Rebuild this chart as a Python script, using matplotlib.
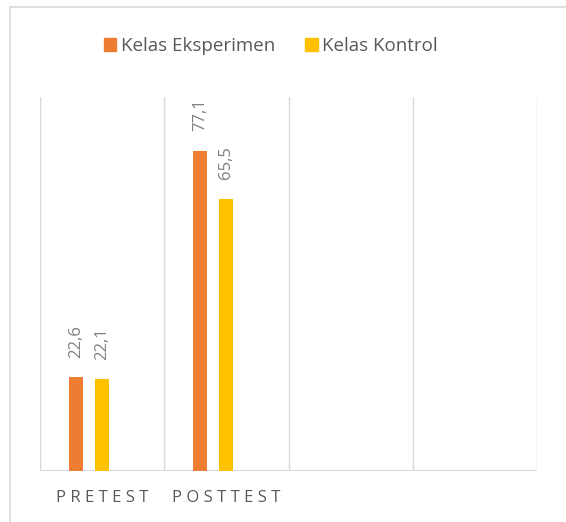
import matplotlib.pyplot as plt
from matplotlib.patches import Rectangle, Patch

# Data
categories = ["PRETEST", "POSTTEST", "", ""]
series_names = ["Kelas Eksperimen", "Kelas Kontrol"]
eksperimen = [22.6, 77.1]
kontrol = [22.1, 65.5]
value_labels_eks = ["22,6", "77,1"]
value_labels_kon = ["22,1", "65,5"]

orange = "#ED7D31"
yellow = "#FFC000"
grid_c = "#D9D9D9"
text_c = "#595959"

plt.rcParams["font.family"] = ["Open Sans", "DejaVu Sans"]

W, H = 566, 522
fig = plt.figure(figsize=(W / 100, H / 100), dpi=100)

# chart frame
fig.patches.append(Rectangle((10 / W, -0.1), 1.2, 1 - 7 / H + 0.1,
                             transform=fig.transFigure, fill=False,
                             edgecolor=grid_c, linewidth=1.2))

ax = fig.add_axes([40 / W, 1 - 471 / H, (537 - 40) / W, (471 - 97) / H])

bw = 0.113
off = 0.21
x_pos = list(range(len(eksperimen)))
b1 = ax.bar([x - off for x in x_pos], eksperimen, bw, color=orange)
b2 = ax.bar(x_pos, kontrol, bw, color=yellow)

for rect, lab in zip(b1, value_labels_eks):
    ax.annotate(lab, (rect.get_x() + rect.get_width() / 2, rect.get_height()),
                xytext=(0, 14), textcoords="offset points", rotation=90,
                ha="center", va="bottom", color="#7F7F7F", fontsize=12)
for rect, lab in zip(b2, value_labels_kon):
    ax.annotate(lab, (rect.get_x() + rect.get_width() / 2, rect.get_height()),
                xytext=(0, 14), textcoords="offset points", rotation=90,
                ha="center", va="bottom", color="#7F7F7F", fontsize=12)

ax.set_xlim(-0.5, len(categories) - 0.5)
ax.set_ylim(0, 90)

# vertical gridlines between categories
for g in [i - 0.5 for i in range(len(categories) + 1)]:
    ax.axvline(g, color=grid_c, linewidth=1, zorder=0)
ax.axhline(0, color=grid_c, linewidth=1.5, zorder=0)

for s in ax.spines.values():
    s.set_visible(False)
ax.set_yticks([])
ax.set_xticks(range(len(categories)))
ax.set_xticklabels(["\u2009\u200a".join(c) for c in categories], color=text_c,
                   fontsize=12)
ax.tick_params(axis="x", length=0, pad=14)

handles = [Patch(color=orange), Patch(color=yellow)]
fig.legend(handles, series_names, loc="center",
           bbox_to_anchor=(271 / W, 1 - 46 / H),
           ncol=2, frameon=False, fontsize=13.5, labelcolor=text_c,
           handlelength=0.65, handleheight=0.65, handletextpad=0.25,
           columnspacing=1.6)

fig.savefig("out.png", dpi=100)
